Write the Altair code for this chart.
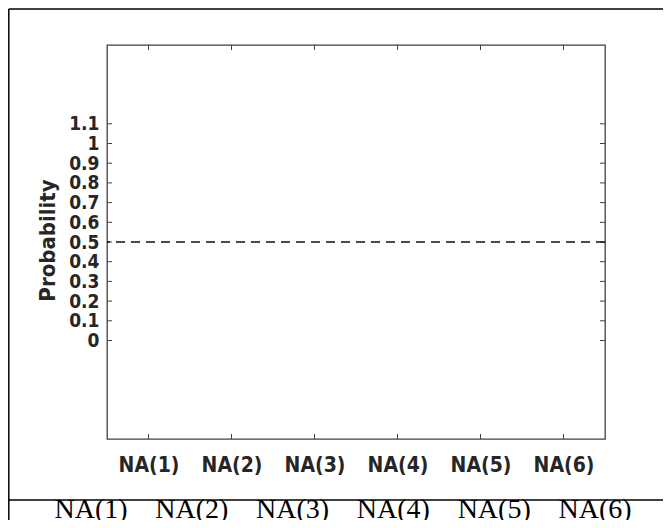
import altair as alt
import pandas as pd

# ---- data ----
categories = ["NA(1)", "NA(2)", "NA(3)", "NA(4)", "NA(5)", "NA(6)"]
table_labels = ["NA(1)", "NA(2)", "NA(3)", "NA(4)", "NA(5)", "NA(6)"]
y_ticks = [0, 0.1, 0.2, 0.3, 0.4, 0.5, 0.6, 0.7, 0.8, 0.9, 1, 1.1]
threshold = [0.5]
y_domain = [-0.5, 1.5]

W, H = 498, 394
AX = "#404040"
LBL = "#262626"
FONT = "DejaVu Sans Condensed"

df_cat = pd.DataFrame({"cat": categories})
df_tab = pd.DataFrame({"lab": table_labels})
df_y = pd.DataFrame({"p": y_ticks})
df_thr = pd.DataFrame({"p": threshold})
df_one = pd.DataFrame({"k": [0]})

xscale = alt.Scale(type="point", padding=0.5)
yscale = alt.Scale(domain=y_domain, nice=False, zero=False)
yaxis = alt.Axis(values=y_ticks, format="~g", title="Probability",
                 titleX=-60, titleY=195)

# y ticks (left, inward) carrying the y axis
yt_left = alt.Chart(df_y).mark_rule(color=AX, strokeWidth=1).encode(
    y=alt.Y("p:Q", scale=yscale, axis=yaxis),
    x=alt.value(0), x2=alt.value(5))

yt_right = alt.Chart(df_y).mark_rule(color=AX, strokeWidth=1).encode(
    y=alt.Y("p:Q", scale=yscale, axis=yaxis),
    x=alt.value(W - 5), x2=alt.value(W))

# x ticks (bottom, inward) carrying the x axis
xt_bottom = alt.Chart(df_cat).mark_rule(color=AX, strokeWidth=1).encode(
    x=alt.X("cat:N", sort=categories, scale=xscale,
            axis=alt.Axis(title=None, labelAngle=0)),
    y=alt.value(H - 5), y2=alt.value(H))

xt_top = alt.Chart(df_cat).mark_rule(color=AX, strokeWidth=1).encode(
    x=alt.X("cat:N", sort=categories, scale=xscale, axis=None),
    y=alt.value(0), y2=alt.value(5))

thr = alt.Chart(df_thr).mark_rule(color="#111111", strokeWidth=1.4,
                                  strokeDash=[9, 6]).encode(
    y=alt.Y("p:Q", scale=yscale, axis=yaxis))

# table row below the figure
tab = alt.Chart(df_tab).mark_text(font="Liberation Serif", fontSize=28,
                                  baseline="alphabetic", color="black").encode(
    x=alt.X("lab:N", sort=table_labels,
            scale=alt.Scale(type="point", range=[-16, 488], padding=0),
            axis=None),
    y=alt.value(473),
    text="lab:N")

# table frame lines
frame_left = alt.Chart(df_one).mark_rule(color="black", strokeWidth=1.5).encode(
    x=alt.value(-98.2), y=alt.value(-36), y2=alt.value(490))
frame_top = alt.Chart(df_one).mark_rule(color="black", strokeWidth=1.5).encode(
    y=alt.value(-36), x=alt.value(-98.2), x2=alt.value(570))
frame_mid = alt.Chart(df_one).mark_rule(color="black", strokeWidth=1.5).encode(
    y=alt.value(455), x=alt.value(-98.2), x2=alt.value(570))

chart = alt.layer(
    frame_left, frame_top, frame_mid,
    yt_left, yt_right, xt_bottom, xt_top, thr, tab
).resolve_scale(x="independent").properties(
    width=W, height=H,
    autosize=alt.AutoSizeParams(type="none"),
    padding={"left": 99, "top": 37, "right": 58, "bottom": 81},
).configure_view(
    stroke=AX, strokeWidth=1.3
).configure_axisY(
    ticks=False, domain=False, grid=False, labelPadding=8,
    labelFont=FONT, labelFontWeight="bold", labelFontSize=19,
    labelColor=LBL, labelOverlap=False, labelFlush=False,
    titleFont=FONT, titleFontWeight="bold", titleFontSize=22,
    titleColor=LBL, titleAngle=270, titleAlign="center",
    titleBaseline="middle"
).configure_axisX(
    ticks=False, domain=False, grid=False, labelPadding=15,
    labelFont=FONT, labelFontWeight="bold", labelFontSize=21,
    labelColor=LBL, labelAngle=0
)

chart.save("out.html", embed_options={"renderer": "svg", "actions": False})
